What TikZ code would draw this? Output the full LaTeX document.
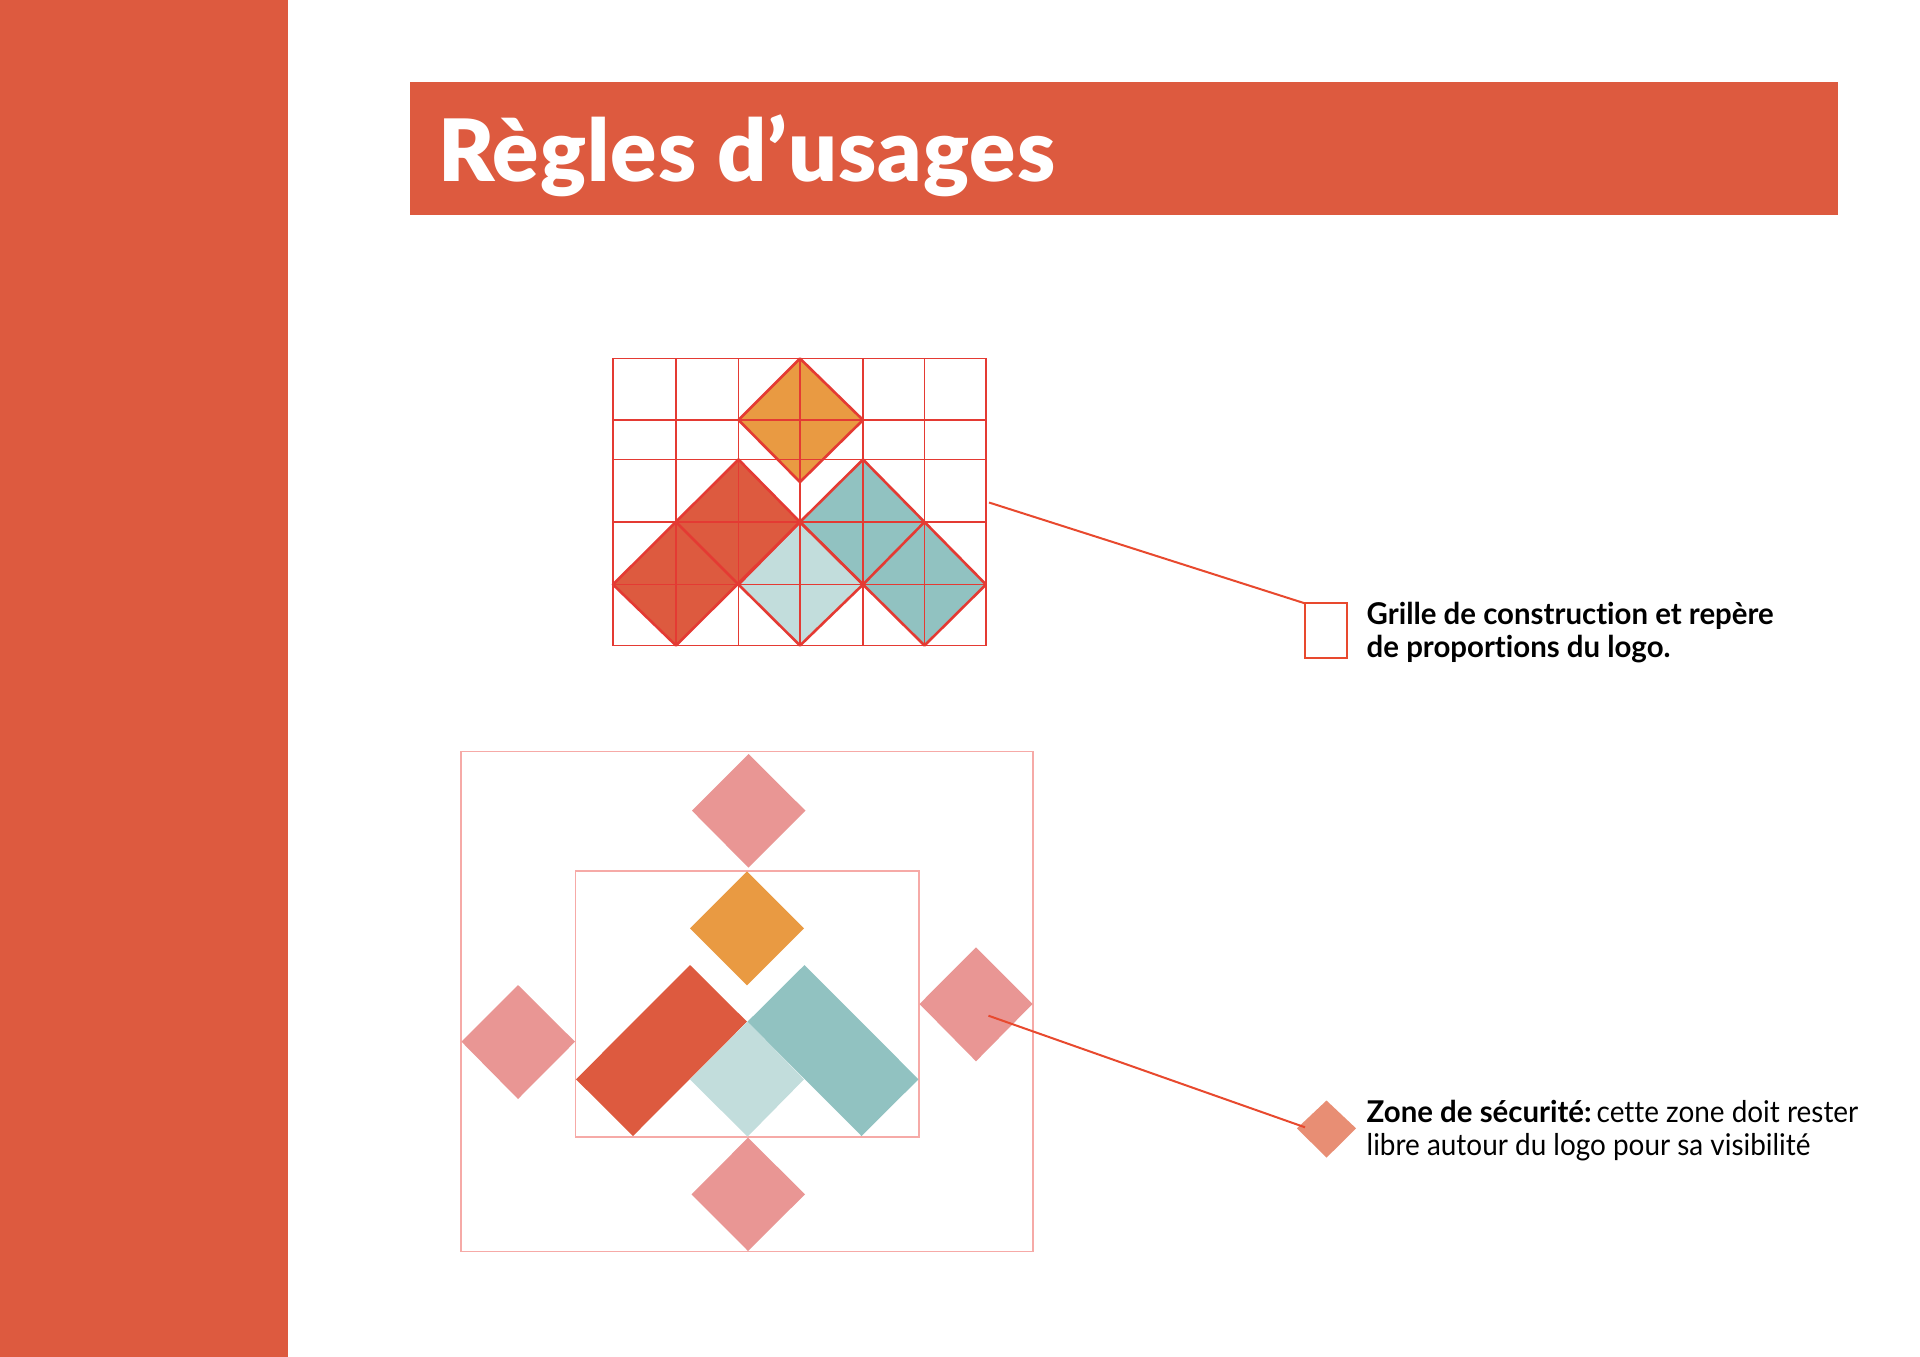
\documentclass[tikz,border=0pt]{standalone}
\usepackage{fontspec}
\setmainfont{Lato}
\newfontfamily\titlefont[LetterSpace=1.2]{Lato Black}
\newfontfamily\legendfont[FakeStretch=0.93,Ligatures=NoCommon,BoldFeatures={FakeStretch=0.98}]{Lato}
\definecolor{brandred}{HTML}{DD5A3F}
\definecolor{brandorange}{HTML}{E99A42}
\definecolor{brandteal}{HTML}{91C2C1}
\definecolor{brandlight}{HTML}{C2DDDC}
\definecolor{zonepink}{HTML}{E99694}
\definecolor{gridred}{HTML}{E43A33}
\definecolor{zoneline}{HTML}{F6AAA7}
\definecolor{legenddiamond}{HTML}{E88E74}
\definecolor{leaderred}{HTML}{E8492E}
\tikzset{
  gridline/.style={draw=gridred,line width=1.9pt},
  outline/.style={draw=gridred,line width=2.6pt,line join=round},
  zonerect/.style={draw=zoneline,line width=1.5pt},
  leader/.style={draw=leaderred,line width=2pt},
  legendtext/.style={anchor=north west,inner sep=0pt,align=left,text=black,
    font=\fontsize{30}{33}\legendfont},
}
\begin{document}
\begin{tikzpicture}[x=1pt,y=-1pt]
\useasboundingbox (0,0) rectangle (1920,1357);
\fill[white] (0,0) rectangle (1920,1357);
% sidebar and title band
\fill[brandred] (0,0) rectangle (288,1357);
\fill[brandred] (410,82) rectangle (1838,215);
\node[anchor=base west,inner sep=0pt,text=white,font=\fontsize{86}{86}\titlefont] (title) at (438,181) {Règles d’usages};
% construction grid: fills
\fill[brandorange] (800,358.5) -- (738.5,420) -- (800,482) -- (863,420) -- cycle;
\fill[brandred] (738.5,459.5) -- (613,584.5) -- (676,645.5) -- (800,522) -- cycle;
\fill[brandlight] (800,522) -- (738.5,584.5) -- (800,645.5) -- (863,584.5) -- cycle;
\fill[brandteal] (863,459.5) -- (800,522) -- (924.5,645.5) -- (986,584.5) -- cycle;
% construction grid: lines
\foreach \gx in {676,738.5,800,863,924.5}
  \draw[gridline] (\gx,358.5) -- (\gx,645.5);
\foreach \gy in {420,459.5,522,584.5}
  \draw[gridline] (613,\gy) -- (986,\gy);
\draw[gridline] (613,358.5) rectangle (986,645.5);
% construction grid: diamond outlines
\draw[outline] (800,358.5) -- (738.5,420) -- (800,482) -- (863,420) -- cycle;
\draw[outline] (738.5,459.5) -- (613,584.5) -- (676,645.5) -- (800,522) -- cycle;
\draw[outline] (676,522) -- (738.5,584.5);
\draw[outline] (800,522) -- (738.5,584.5) -- (800,645.5) -- (863,584.5) -- cycle;
\draw[outline] (863,459.5) -- (800,522) -- (924.5,645.5) -- (986,584.5) -- cycle;
\draw[outline] (924.5,522) -- (863,584.5);
% safety zone
\draw[zonerect] (461,751.3) rectangle (1033,1251.5);
\draw[zonerect] (575.5,871) rectangle (919,1137);
\fill[zonepink] (748.5,754) -- (692,810.7) -- (748.5,867.7) -- (805.5,810.7) -- cycle;
\fill[zonepink] (748,1137.7) -- (691.5,1194.3) -- (748,1251) -- (805,1194.3) -- cycle;
\fill[zonepink] (518,985) -- (461.5,1041.7) -- (518,1099) -- (575,1041.7) -- cycle;
\fill[zonepink] (976,947.3) -- (919.5,1004) -- (976,1061.3) -- (1032.5,1004) -- cycle;
\fill[brandorange] (747,871.3) -- (690,928.3) -- (747,985.3) -- (804,928.3) -- cycle;
\fill[brandred] (690,965) -- (576,1079.3) -- (633,1136) -- (747,1021.7) -- cycle;
\fill[brandlight] (747.5,1021.7) -- (690,1079.3) -- (747.5,1136.7) -- (804,1079.3) -- cycle;
\fill[brandteal] (804.5,965) -- (747.5,1021.7) -- (861.5,1136) -- (918.5,1079.3) -- cycle;
% legend markers
\node[draw=leaderred,line width=2pt,minimum width=42.5pt,minimum height=55pt,inner sep=0pt,outer sep=0pt] (gridbox) at (1326,630.8) {};
\fill[legenddiamond] (1326.5,1100.5) -- (1297,1128.3) -- (1326.5,1157.7) -- (1356,1128.3) -- cycle;
% leader lines
\coordinate (gridstart) at (989,502.5);
\coordinate (zonestart) at (988.5,1015.7);
\coordinate (zoneend) at (1305,1127.3);
\draw[leader] (gridstart) -- (gridbox.north west);
\draw[leader] (zonestart) -- (zoneend);
% legend texts
\node[legendtext] (gridtext) at (1366.5,602) {\bfseries Grille de construction et repère\\\bfseries de proportions du logo.};
\node[legendtext] (zonetext) at (1366.5,1100) {\textbf{Zone de sécurité:}\hspace{-4.5pt} cette zone doit rester\\libre autour du logo pour sa visibilité};
\end{tikzpicture}
\end{document}
